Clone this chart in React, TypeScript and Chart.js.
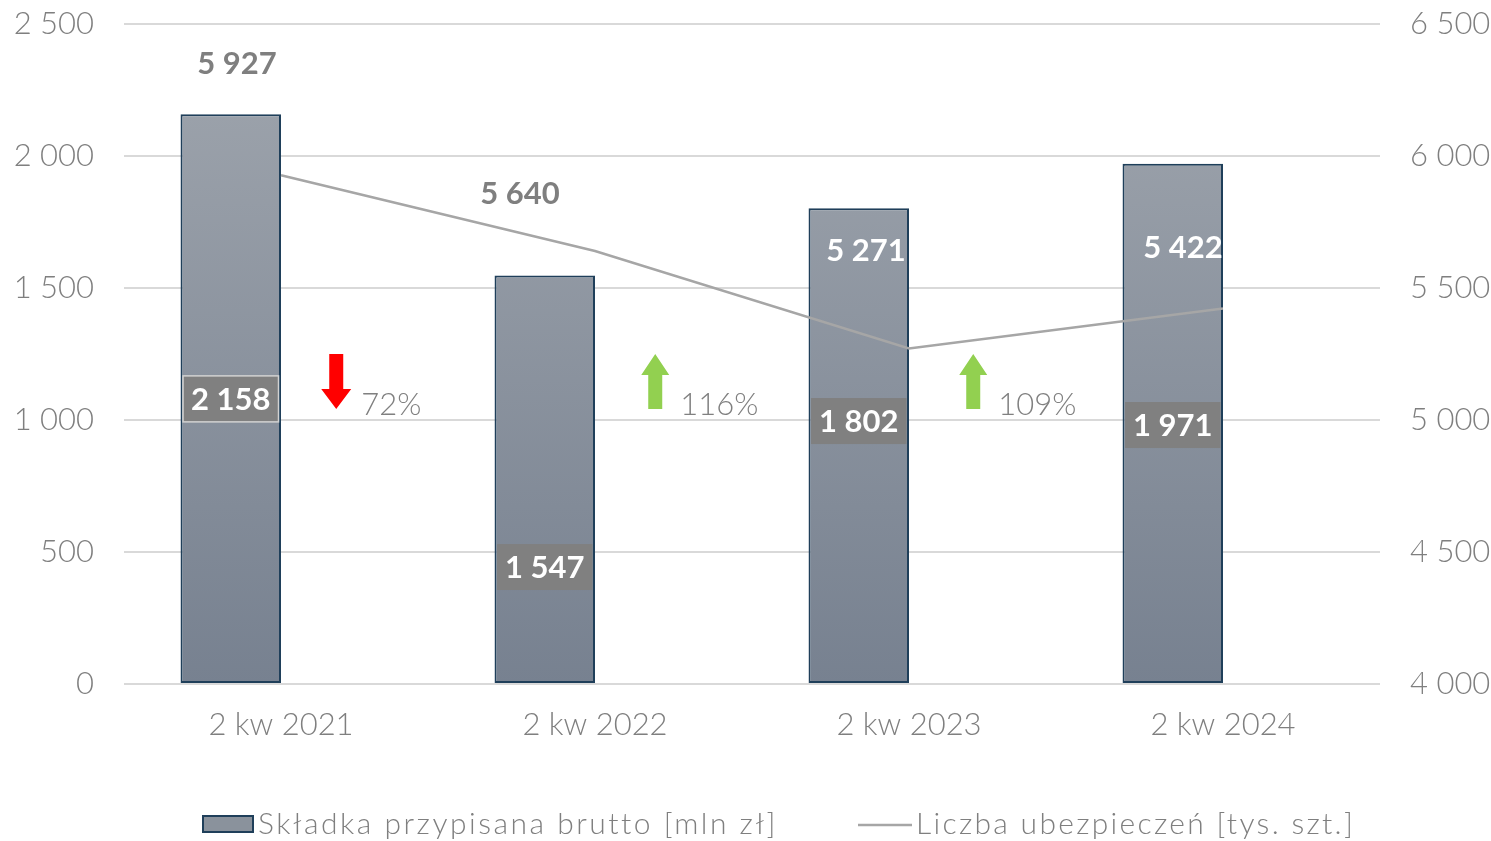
import React, { useEffect, useRef } from 'react';
import { Chart, registerables } from 'chart.js';

Chart.register(...registerables);

// ---- data ----
const categories = ['2 kw 2021', '2 kw 2022', '2 kw 2023', '2 kw 2024'];
const premiumValues = [2158, 1547, 1802, 1971]; // Składka przypisana brutto [mln zł]
const policyCounts = [5927, 5640, 5271, 5422]; // Liczba ubezpieczeń [tys. szt.]
const changeLabels = ['72%', '116%', '109%'];
const changeDirections = ['down', 'up', 'up'];
const leftTickValues = [0, 500, 1000, 1500, 2000, 2500];
const rightTickValues = [4000, 4500, 5000, 5500, 6000, 6500];
const premiumLabel = 'Składka przypisana brutto [mln zł]';
const policyLabel = 'Liczba ubezpieczeń [tys. szt.]';

// ---- label placement / styling ----
const barLabelAt = [1080, 443, 996, 981]; // left-axis units
const lineLabelAt = [6348, 5856, 5640, 5652]; // right-axis units
const lineLabelDx = [-44, -75, -43, -40];
const lineLabelColors = ['#7f7f7f', '#7f7f7f', '#ffffff', '#ffffff'];
const arrowDx = [5, 10, 14];

const FONT = "'Lato', 'DejaVu Sans', sans-serif";
const GREY = '#7f7f7f';

const fmt = (v: number) => String(v).replace(/\B(?=(\d{3})+(?!\d))/g, ' ');

const annotationPlugin = {
  id: 'annotations',
  afterDatasetsDraw(chart: any) {
    const ctx = chart.ctx as CanvasRenderingContext2D;
    const y = chart.scales.y;
    const y1 = chart.scales.y1;
    const barMeta = chart.getDatasetMeta(0);
    const gapMeta = chart.getDatasetMeta(1);
    const lineMeta = chart.getDatasetMeta(2);
    ctx.save();

    // bar value labels
    barMeta.data.forEach((bar: any, i: number) => {
      const p = bar.getProps(['x', 'width'], true);
      const cy = y.getPixelForValue(barLabelAt[i]);
      const w = p.width - 5;
      const h = 46;
      ctx.fillStyle = '#808080';
      ctx.fillRect(p.x - w / 2, cy - h / 2, w, h);
      if (i === 0) {
        ctx.strokeStyle = '#d2d2d2';
        ctx.lineWidth = 1.5;
        ctx.strokeRect(p.x - w / 2, cy - h / 2, w, h);
      }
      ctx.fillStyle = '#ffffff';
      ctx.font = `bold 31px ${FONT}`;
      ctx.textAlign = 'center';
      ctx.textBaseline = 'middle';
      ctx.fillText(fmt(premiumValues[i]), p.x, cy + 1);
    });

    // line value labels
    lineMeta.data.forEach((pt: any, i: number) => {
      const p = pt.getProps(['x'], true);
      ctx.fillStyle = lineLabelColors[i];
      ctx.font = `bold 31px ${FONT}`;
      ctx.textAlign = 'center';
      ctx.textBaseline = 'middle';
      ctx.fillText(fmt(policyCounts[i]), p.x + lineLabelDx[i], y1.getPixelForValue(lineLabelAt[i]));
    });

    // change arrows + percentages
    const base = y.getPixelForValue(1000);
    changeLabels.forEach((txt, i) => {
      const g = gapMeta.data[i].getProps(['x'], true);
      const ax = g.x + arrowDx[i];
      const top = base - 66;
      const bot = base - 11;
      ctx.beginPath();
      if (changeDirections[i] === 'down') {
        ctx.fillStyle = '#ff0000';
        ctx.moveTo(ax - 7, top);
        ctx.lineTo(ax + 7, top);
        ctx.lineTo(ax + 7, bot - 20);
        ctx.lineTo(ax + 15, bot - 20);
        ctx.lineTo(ax, bot);
        ctx.lineTo(ax - 15, bot - 20);
        ctx.lineTo(ax - 7, bot - 20);
      } else {
        ctx.fillStyle = '#92d050';
        ctx.moveTo(ax - 7, bot);
        ctx.lineTo(ax + 7, bot);
        ctx.lineTo(ax + 7, top + 21);
        ctx.lineTo(ax + 14, top + 21);
        ctx.lineTo(ax, top);
        ctx.lineTo(ax - 14, top + 21);
        ctx.lineTo(ax - 7, top + 21);
      }
      ctx.closePath();
      ctx.fill();
      ctx.fillStyle = '#808080';
      ctx.font = `300 31px ${FONT}`;
      ctx.textAlign = 'left';
      ctx.textBaseline = 'middle';
      ctx.fillText(txt, ax + 25, base - 15);
    });
    ctx.restore();
  },
  afterDraw(chart: any) {
    // legend
    const ctx = chart.ctx as CanvasRenderingContext2D;
    ctx.save();
    const ly = 824;
    ctx.fillStyle = '#8a929c';
    ctx.fillRect(203, ly - 8, 50, 16);
    ctx.strokeStyle = '#1f3f5a';
    ctx.lineWidth = 2;
    ctx.strokeRect(203, ly - 8, 50, 16);
    ctx.fillStyle = GREY;
    ctx.font = `300 30px ${FONT}`;
    ctx.textAlign = 'left';
    ctx.textBaseline = 'middle';
    (ctx as any).letterSpacing = '2.5px';
    ctx.fillText(premiumLabel, 258, ly);
    ctx.strokeStyle = '#a6a6a6';
    ctx.lineWidth = 2.5;
    ctx.beginPath();
    ctx.moveTo(858, ly + 1);
    ctx.lineTo(912, ly + 1);
    ctx.stroke();
    (ctx as any).letterSpacing = '2.3px';
    ctx.fillText(policyLabel, 916, ly);
    ctx.restore();
  },
};

export default function App() {
  const ref = useRef<HTMLCanvasElement | null>(null);

  useEffect(() => {
    document.body.style.margin = '0';
    if (!ref.current) return;
    const chart = new Chart(ref.current, {
      type: 'bar',
      data: {
        labels: categories,
        datasets: [
          {
            type: 'bar',
            label: premiumLabel,
            data: premiumValues,
            yAxisID: 'y',
            order: 2,
            backgroundColor: (c: any) => {
              const ca = c.chart.chartArea;
              if (!ca) return '#8a929c';
              const g = c.chart.ctx.createLinearGradient(0, ca.top, 0, ca.bottom);
              g.addColorStop(0, '#a0a6ae');
              g.addColorStop(1, '#778190');
              return g;
            },
            borderColor: '#1f3f5a',
            borderWidth: 2,
            borderSkipped: false,
            categoryPercentage: 0.64,
            barPercentage: 1,
          },
          {
            type: 'bar',
            label: '',
            data: [0, 0, 0, 0],
            yAxisID: 'y',
            order: 3,
            backgroundColor: 'rgba(0,0,0,0)',
            borderWidth: 0,
            categoryPercentage: 0.64,
            barPercentage: 1,
          },
          {
            type: 'line',
            label: policyLabel,
            data: policyCounts,
            yAxisID: 'y1',
            order: 0,
            borderColor: '#a6a6a6',
            borderWidth: 2.5,
            pointRadius: 0,
            fill: false,
            tension: 0,
          },
        ],
      },
      options: {
        responsive: true,
        maintainAspectRatio: false,
        animation: false,
        layout: { padding: { top: 24, left: 0, right: 0, bottom: 0 } },
        plugins: {
          legend: { display: false },
          tooltip: { enabled: false },
        },
        scales: {
          x: {
            grid: { display: false, drawTicks: false },
            border: { display: false },
            ticks: {
              color: GREY,
              font: { family: FONT, size: 31, weight: '300' as any },
              padding: 22,
            },
            afterFit: (s: any) => {
              s.height = 157;
            },
          },
          y: {
            position: 'left',
            min: 0,
            max: 2500,
            afterBuildTicks: (s: any) => {
              s.ticks = leftTickValues.map((v) => ({ value: v }));
            },
            grid: { color: '#d9d9d9', lineWidth: 2, drawTicks: false },
            border: { display: false },
            ticks: {
              color: GREY,
              font: { family: FONT, size: 31, weight: '300' as any },
              padding: 30,
              callback: (v: any) => fmt(Number(v)),
            },
            afterFit: (s: any) => {
              s.width = 124;
              s.paddingTop = 0;
              s.paddingBottom = 0;
            },
          },
          y1: {
            position: 'right',
            min: 4000,
            max: 6500,
            afterBuildTicks: (s: any) => {
              s.ticks = rightTickValues.map((v) => ({ value: v }));
            },
            grid: { display: false, drawTicks: false },
            border: { display: false },
            ticks: {
              color: GREY,
              font: { family: FONT, size: 31, weight: '300' as any },
              padding: 30,
              callback: (v: any) => fmt(Number(v)),
            },
            afterFit: (s: any) => {
              s.width = 111;
              s.paddingTop = 0;
              s.paddingBottom = 0;
            },
          },
        },
      },
      plugins: [annotationPlugin],
    });
    return () => chart.destroy();
  }, []);

  return (
    <div style={{ position: 'fixed', left: 0, top: 0, width: 1491, height: 841 }}>
      <canvas ref={ref} />
    </div>
  );
}
